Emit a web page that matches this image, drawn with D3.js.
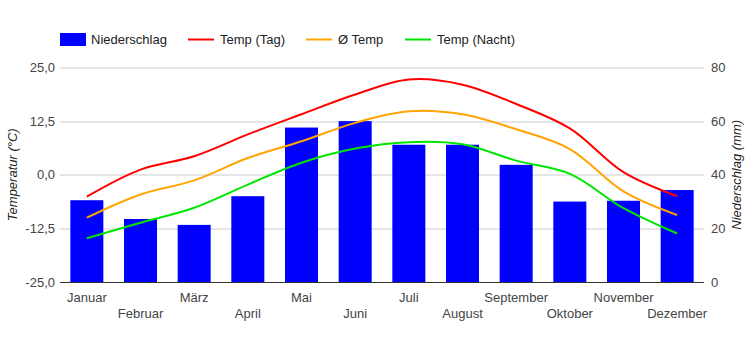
<!DOCTYPE html>
<html>
<head>
<meta charset="utf-8">
<script src="https://cdn.jsdelivr.net/npm/d3@7"></script>
<style>
  body { margin: 0; background: #fff; }
  svg { font-family: Arial, "Liberation Sans", sans-serif; }
  .axis text { font-size: 13px; fill: #444; }
  .legend text { font-size: 13px; fill: #222; }
  .axis-title { font-size: 13px; font-style: italic; fill: #222; }
</style>
</head>
<body>
<div id="chart"></div>
<script>
// months and values
const months = ['Januar', 'Februar', 'März', 'April', 'Mai', 'Juni',
    'Juli', 'August', 'September', 'Oktober', 'November', 'Dezember'];
const precipitation = [30.5, 23.5, 21.3, 32, 57.6, 60, 51.2, 51.2, 43.7, 30, 30.3, 34.3];
const tempDay = [-5.1, 1.2, 4.3, 9.4, 14.1, 18.7, 22.2, 21.0, 16.5, 10.8, 0.6, -5.0];
const tempAvg = [-10.0, -4.6, -1.3, 3.9, 7.8, 12.1, 14.8, 14.1, 10.6, 6.0, -3.9, -9.4];
const tempNight = [-14.8, -11.2, -7.7, -2.3, 2.8, 6.1, 7.6, 7.1, 3.3, 0.2, -7.8, -13.7];
const tempTicks = [-25, -12.5, 0, 12.5, 25];
const precipTicks = [0, 20, 40, 60, 80];

const series = [
    {name: 'Temp (Tag)', values: tempDay, color: '#ff0000'},
    {name: 'Ø Temp', values: tempAvg, color: '#ffa500'},
    {name: 'Temp (Nacht)', values: tempNight, color: '#00e600'}
];

const width = 750, height = 350;
const margin = {top: 67.5, right: 46, bottom: 68, left: 60};
const innerW = width - margin.left - margin.right;
const innerH = height - margin.top - margin.bottom;

const svg = d3.select('#chart').append('svg')
    .attr('width', width)
    .attr('height', height);

const chart = svg.append('g')
    .attr('transform', `translate(${margin.left},${margin.top})`);

const xScale = d3.scaleBand()
    .domain(months)
    .range([0, innerW])
    .paddingInner(0.385)
    .paddingOuter(0.1925);

const yTemp = d3.scaleLinear().domain([-25, 25]).range([innerH, 0]);
const yPrecip = d3.scaleLinear().domain([0, 80]).range([innerH, 0]);

const fmt = d => d3.format('.1f')(d).replace('.', ',').replace('−', '-');

// gridlines
chart.append('g')
    .selectAll('line')
    .data(tempTicks.slice(1))
    .join('line')
    .attr('x1', 0)
    .attr('x2', innerW)
    .attr('y1', d => Math.round(yTemp(d)) + 0.5)
    .attr('y2', d => Math.round(yTemp(d)) + 0.5)
    .attr('stroke', '#cccccc');

// bars
chart.selectAll('.bar')
    .data(precipitation)
    .join('rect')
    .attr('class', 'bar')
    .attr('x', (d, i) => xScale(months[i]))
    .attr('width', xScale.bandwidth())
    .attr('y', d => yPrecip(d))
    .attr('height', d => innerH - yPrecip(d))
    .attr('fill', '#0000ff');

// baseline
chart.append('line')
    .attr('x1', 0)
    .attr('x2', innerW)
    .attr('y1', innerH + 0.5)
    .attr('y2', innerH + 0.5)
    .attr('stroke', '#333');

// lines
const line = d3.line()
    .x((d, i) => xScale(months[i]) + xScale.bandwidth() / 2)
    .y(d => yTemp(d))
    .curve(d3.curveCatmullRom.alpha(0.5));

chart.selectAll('.line')
    .data(series)
    .join('path')
    .attr('class', 'line')
    .attr('fill', 'none')
    .attr('stroke', d => d.color)
    .attr('stroke-width', 2)
    .attr('d', d => line(d.values));

// axes
const yAxisLeft = d3.axisLeft(yTemp)
    .tickValues(tempTicks)
    .tickFormat(fmt)
    .tickSize(0)
    .tickPadding(5);

const yAxisRight = d3.axisRight(yPrecip)
    .tickValues(precipTicks)
    .tickSize(0)
    .tickPadding(7);

const xAxis = d3.axisBottom(xScale)
    .tickSize(0)
    .tickPadding(0);

chart.append('g').attr('class', 'axis').call(yAxisLeft)
    .call(g => g.select('.domain').remove());

chart.append('g').attr('class', 'axis')
    .attr('transform', `translate(${innerW},0)`)
    .call(yAxisRight)
    .call(g => g.select('.domain').remove());

chart.append('g').attr('class', 'axis')
    .attr('transform', `translate(0,${innerH})`)
    .call(xAxis)
    .call(g => g.select('.domain').remove())
    .selectAll('text')
    .attr('dy', null)
    .attr('y', (d, i) => i % 2 === 0 ? 19.5 : 36);

// axis titles
svg.append('text')
    .attr('class', 'axis-title')
    .attr('transform', `translate(17,${margin.top + innerH / 2}) rotate(-90)`)
    .style('text-anchor', 'middle')
    .text('Temperatur (°C)');

svg.append('text')
    .attr('class', 'axis-title')
    .attr('transform', `translate(741,${margin.top + innerH / 2}) rotate(-90)`)
    .style('text-anchor', 'middle')
    .text('Niederschlag (mm)');

// legend
const legend = svg.append('g').attr('class', 'legend');

legend.append('rect')
    .attr('x', 60).attr('y', 33)
    .attr('width', 26).attr('height', 13)
    .attr('fill', '#0000ff');
legend.append('text')
    .attr('x', 91).attr('y', 44)
    .text('Niederschlag');

const legendX = [188, 306, 405];
series.forEach((s, i) => {
    legend.append('line')
        .attr('x1', legendX[i]).attr('x2', legendX[i] + 26)
        .attr('y1', 39.5).attr('y2', 39.5)
        .attr('stroke', s.color)
        .attr('stroke-width', 2);
    legend.append('text')
        .attr('x', legendX[i] + 32).attr('y', 44)
        .text(s.name);
});
</script>
</body>
</html>
